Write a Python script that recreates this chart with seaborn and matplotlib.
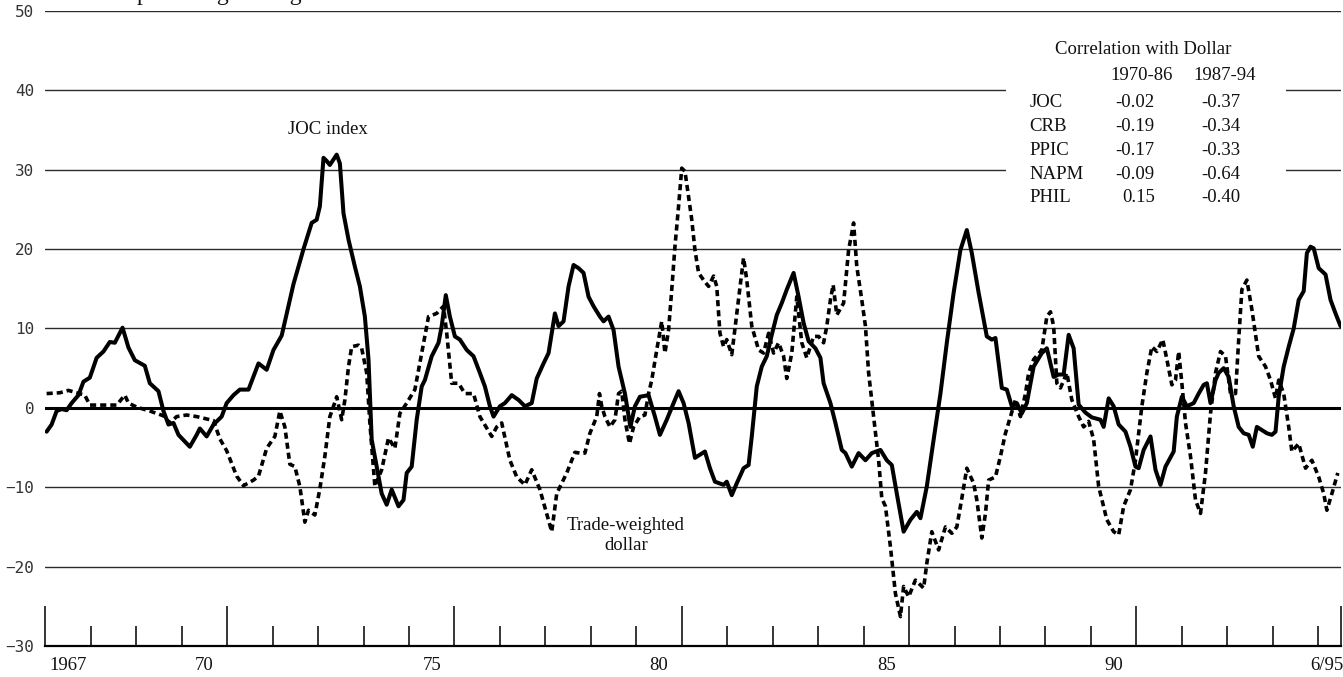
import matplotlib
matplotlib.use("Agg")
import matplotlib.pyplot as plt
import pandas as pd
import seaborn as sns
from matplotlib.patches import Rectangle
from matplotlib.transforms import blended_transform_factory

# JOC industrial materials index, year-over-year % change
joc_year = [1967.03, 1967.14, 1967.25, 1967.36, 1967.47, 1967.58, 1967.73, 1967.84, 1967.98,
            1968.13, 1968.28, 1968.42, 1968.53, 1968.70, 1968.83, 1968.97, 1969.19, 1969.30,
            1969.49, 1969.60, 1969.71, 1969.82, 1969.93, 1970.18, 1970.33, 1970.40, 1970.55,
            1970.70, 1970.88, 1970.99, 1971.14, 1971.28, 1971.47, 1971.69, 1971.87, 1972.02,
            1972.20, 1972.46, 1972.68, 1972.86, 1972.97, 1973.04, 1973.12, 1973.19, 1973.26,
            1973.34, 1973.41, 1973.48, 1973.56, 1973.67, 1973.81, 1973.92, 1974.03, 1974.11,
            1974.18, 1974.29, 1974.40, 1974.51, 1974.62, 1974.77, 1974.88, 1974.95, 1975.06,
            1975.17, 1975.28, 1975.35, 1975.50, 1975.65, 1975.72, 1975.81, 1975.90, 1976.01,
            1976.12, 1976.27, 1976.42, 1976.56, 1976.67, 1976.78, 1976.86, 1977.00, 1977.11,
            1977.26, 1977.41, 1977.55, 1977.70, 1977.81, 1977.96, 1978.07, 1978.21, 1978.29,
            1978.40, 1978.51, 1978.62, 1978.73, 1978.84, 1978.95, 1979.06, 1979.20, 1979.28,
            1979.39, 1979.50, 1979.61, 1979.75, 1979.87, 1979.97, 1980.08, 1980.27, 1980.41,
            1980.52, 1980.67, 1980.82, 1980.93, 1981.04, 1981.15, 1981.29, 1981.40, 1981.51,
            1981.62, 1981.73, 1981.92, 1981.99, 1982.10, 1982.21, 1982.36, 1982.47, 1982.54,
            1982.65, 1982.76, 1982.87, 1982.98, 1983.09, 1983.20, 1983.31, 1983.46, 1983.57,
            1983.68, 1983.79, 1983.94, 1984.05, 1984.12, 1984.27, 1984.38, 1984.52, 1984.60,
            1984.74, 1984.89, 1985.04, 1985.18, 1985.37, 1985.51, 1985.62, 1985.73, 1985.88,
            1986.03, 1986.17, 1986.25, 1986.39, 1986.54, 1986.69, 1986.83, 1986.98, 1987.13,
            1987.27, 1987.38, 1987.53, 1987.71, 1987.82, 1987.90, 1988.04, 1988.15, 1988.26,
            1988.37, 1988.48, 1988.59, 1988.74, 1988.92, 1989.03, 1989.18, 1989.29, 1989.40,
            1989.51, 1989.62, 1989.73, 1989.88, 1990.02, 1990.21, 1990.28, 1990.39, 1990.50,
            1990.61, 1990.76, 1990.87, 1990.98, 1991.05, 1991.16, 1991.31, 1991.42, 1991.53,
            1991.64, 1991.82, 1991.89, 1992.00, 1992.11, 1992.26, 1992.37, 1992.48, 1992.55,
            1992.63, 1992.74, 1992.81, 1992.92, 1993.03, 1993.14, 1993.25, 1993.36, 1993.47,
            1993.56, 1993.65, 1993.76, 1993.87, 1993.98, 1994.06, 1994.13, 1994.24, 1994.35,
            1994.46, 1994.57, 1994.68, 1994.75, 1994.83, 1994.90, 1995.01, 1995.16, 1995.27,
            1995.38, 1995.49]
joc_pct = [-3.0, -2.1, -0.4, -0.15, -0.3, 0.6, 1.6, 3.3, 3.8,
           6.3, 7.1, 8.3, 8.2, 10.1, 7.6, 6.0, 5.3, 3.1,
           2.1, -0.4, -2.1, -1.9, -3.4, -4.9, -3.4, -2.6, -3.6,
           -2.1, -1.1, 0.6, 1.6, 2.3, 2.3, 5.6, 4.8, 7.3,
           9.1, 15.6, 20.0, 23.3, 23.7, 25.4, 31.5, 31.1, 30.6,
           31.3, 31.9, 30.8, 24.5, 21.2, 17.8, 15.3, 11.5, 6.1,
           -4.0, -7.4, -10.8, -12.2, -10.3, -12.4, -11.6, -8.2, -7.4,
           -1.5, 2.7, 3.5, 6.5, 8.2, 10.3, 14.2, 11.5, 9.0,
           8.6, 7.3, 6.5, 4.4, 2.7, 0.2, -1.1, 0.2, 0.6,
           1.6, 1.0, 0.2, 0.6, 3.7, 5.6, 6.9, 11.9, 10.3,
           10.9, 15.3, 18.0, 17.6, 17.0, 14.0, 12.8, 11.5, 10.9,
           11.5, 9.8, 5.2, 1.8, -2.4, 0.2, 1.4, 1.6, -1.1,
           -3.4, -1.5, 0.6, 2.1, 0.6, -1.9, -6.3, -5.9, -5.5,
           -7.6, -9.3, -9.7, -9.3, -11.0, -9.5, -7.6, -7.2, -3.6,
           2.7, 5.2, 6.5, 9.2, 11.7, 13.2, 14.9, 17.0, 14.0,
           10.7, 8.4, 7.5, 6.3, 3.1, 0.6, -1.9, -5.3, -5.7,
           -7.4, -5.7, -6.6, -5.7, -5.3, -6.6, -7.2, -10.8, -15.6,
           -14.1, -13.1, -13.9, -9.9, -4.0, 1.8, 8.2, 14.5, 19.9,
           22.4, 19.5, 14.5, 9.0, 8.6, 8.8, 2.5, 2.3, 0.2,
           0.6, -0.7, 0.6, 5.2, 6.9, 7.5, 3.9, 4.2, 4.2,
           9.2, 7.5, 0.4, -0.6, -1.2, -1.5, -2.4, 1.2, 0.2,
           -2.1, -3.0, -4.9, -7.4, -7.6, -5.3, -3.6, -7.8, -9.7,
           -7.4, -5.5, -1.1, 1.4, 0.2, 0.6, 1.8, 2.9, 3.1,
           0.6, 3.5, 4.4, 5.0, 3.9, 0.2, -2.4, -3.2, -3.4,
           -4.9, -2.4, -2.8, -3.2, -3.4, -3.0, 1.4, 5.2, 7.7,
           10.0, 13.6, 14.7, 19.5, 20.3, 20.1, 17.6, 16.8, 13.6,
           11.9, 10.3]

# Trade-weighted dollar, year-over-year % change
usd_year = [1967.03, 1967.32, 1967.51, 1967.69, 1967.87, 1967.98, 1968.20, 1968.57, 1968.75,
            1968.83, 1969.01, 1969.30, 1969.60, 1969.74, 1969.89, 1970.11, 1970.33, 1970.55,
            1970.70, 1970.84, 1970.99, 1971.21, 1971.36, 1971.58, 1971.69, 1971.87, 1972.05,
            1972.16, 1972.27, 1972.38, 1972.49, 1972.60, 1972.71, 1972.79, 1972.93, 1973.04,
            1973.15, 1973.26, 1973.34, 1973.41, 1973.52, 1973.59, 1973.67, 1973.74, 1973.89,
            1973.96, 1974.07, 1974.14, 1974.25, 1974.40, 1974.55, 1974.69, 1974.80, 1974.95,
            1975.13, 1975.28, 1975.43, 1975.61, 1975.76, 1975.83, 1975.94, 1976.09, 1976.23,
            1976.42, 1976.56, 1976.82, 1976.93, 1977.04, 1977.22, 1977.37, 1977.55, 1977.70,
            1977.88, 1978.14, 1978.25, 1978.47, 1978.65, 1978.76, 1978.87, 1978.98, 1979.13,
            1979.19, 1979.24, 1979.31, 1979.42, 1979.53, 1979.61, 1979.68, 1979.75, 1979.85,
            1979.94, 1980.08, 1980.19, 1980.27, 1980.34, 1980.45, 1980.56, 1980.63, 1980.71,
            1980.78, 1980.85, 1980.93, 1981.00, 1981.07, 1981.15, 1981.22, 1981.29, 1981.37,
            1981.48, 1981.59, 1981.70, 1981.77, 1981.84, 1981.92, 1981.99, 1982.10, 1982.21,
            1982.36, 1982.43, 1982.54, 1982.69, 1982.80, 1982.91, 1983.02, 1983.13, 1983.24,
            1983.31, 1983.42, 1983.53, 1983.64, 1983.75, 1983.90, 1984.01, 1984.12, 1984.19,
            1984.27, 1984.33, 1984.41, 1984.56, 1984.67, 1984.74, 1984.78, 1984.85, 1984.96,
            1985.04, 1985.11, 1985.22, 1985.33, 1985.40, 1985.48, 1985.59, 1985.70, 1985.81,
            1985.88, 1985.99, 1986.14, 1986.32, 1986.39, 1986.50, 1986.65, 1986.80, 1986.94,
            1987.05, 1987.16, 1987.27, 1987.42, 1987.49, 1987.60, 1987.68, 1987.75, 1987.90,
            1988.01, 1988.12, 1988.23, 1988.34, 1988.45, 1988.56, 1988.63, 1988.74, 1988.92,
            1989.03, 1989.11, 1989.18, 1989.25, 1989.33, 1989.47, 1989.58, 1989.73, 1989.84,
            1989.95, 1990.06, 1990.17, 1990.35, 1990.50, 1990.61, 1990.72, 1990.87, 1990.98,
            1991.12, 1991.23, 1991.34, 1991.45, 1991.58, 1991.67, 1991.78, 1991.86, 1991.93,
            1992.00, 1992.08, 1992.19, 1992.30, 1992.41, 1992.52, 1992.63, 1992.74, 1992.85,
            1992.96, 1993.07, 1993.18, 1993.25, 1993.32, 1993.43, 1993.54, 1993.69, 1993.84,
            1993.95, 1994.06, 1994.13, 1994.24, 1994.35, 1994.42, 1994.57, 1994.72, 1994.86,
            1995.01, 1995.12, 1995.19, 1995.30, 1995.43]
usd_pct = [1.8, 1.9, 2.2, 1.9, 1.6, 0.35, 0.35, 0.35, 1.6,
           0.6, 0.1, -0.4, -1.0, -1.9, -1.1, -0.9, -1.1, -1.4,
           -1.6, -3.9, -5.4, -8.6, -9.8, -9.1, -8.6, -5.1, -3.6,
           -0.4, -2.4, -7.1, -7.4, -9.9, -14.4, -12.9, -13.5, -10.2,
           -6.1, -1.1, 0.2, 1.4, -1.5, 1.0, 5.2, 7.7, 7.9,
           7.5, 4.4, -1.9, -9.9, -7.8, -3.8, -5.1, -0.7, 0.6,
           2.3, 6.9, 11.5, 11.9, 12.8, 9.4, 3.1, 3.1, 1.8,
           1.8, -1.1, -3.6, -2.4, -1.9, -6.6, -8.7, -9.7, -7.8,
           -10.3, -15.6, -10.8, -8.2, -5.6, -5.7, -5.7, -3.2, -1.1,
           1.8, 0.2, -1.1, -2.4, -1.5, 1.8, 2.1, -1.5, -4.5,
           -2.4, -1.1, -0.9, 1.8, 3.5, 7.3, 10.9, 6.9, 9.8,
           14.9, 20.3, 25.4, 30.2, 29.8, 26.6, 23.7, 19.9, 17.0,
           16.1, 15.3, 16.6, 15.3, 9.4, 7.7, 8.6, 6.7, 11.9,
           18.9, 16.1, 10.3, 7.3, 6.9, 9.4, 6.9, 8.2, 6.5,
           3.7, 6.9, 14.0, 8.2, 6.3, 9.0, 9.0, 8.2, 10.3,
           13.6, 15.5, 11.7, 13.2, 19.9, 22.0, 23.3, 17.8, 13.6,
           10.3, 4.4, -1.1, -6.6, -11.4, -12.4, -17.5, -23.4, -26.3,
           -22.5, -23.8, -21.7, -22.7, -19.6, -15.6, -17.9, -15.0, -15.8,
           -15.0, -11.4, -7.6, -9.5, -11.6, -16.4, -13.3, -9.1, -8.7,
           -6.1, -3.2, -1.1, 1.0, -1.1, 1.8, 4.4, 6.1, 7.3,
           11.5, 12.1, 10.3, 3.1, 2.5, 4.4, 1.0, -1.1, -2.4,
           -1.7, -4.0, -9.9, -14.1, -15.6, -16.0, -12.4, -10.3, -6.6,
           0.2, 4.4, 7.7, 7.1, 8.6, 6.1, 2.9, 3.5, 7.1,
           3.1, -1.9, -6.1, -11.6, -13.3, -8.2, -0.7, 4.4, 7.1,
           6.5, 1.8, 1.8, 8.6, 14.9, 16.1, 12.4, 6.5, 5.2,
           3.5, 1.2, 3.5, 1.8, -2.4, -5.5, -4.5, -7.6, -6.6,
           -8.7, -10.8, -12.9, -10.8, -8.2]

grid_levels = [50, 40, 30, 20, 10, -10, -20]
y_ticks = [50, 40, 30, 20, 10, 0, -10, -20, -30]
year_labels = ["1967", "70", "75", "80", "85", "90"]
year_label_pos = [1967.5, 1970.5, 1975.5, 1980.5, 1985.5, 1990.5]
end_label = "6/95"
x_start, x_end = 1967.0, 1995.5
major_years = [1967, 1971, 1976, 1981, 1986, 1991]
minor_years = [y for y in range(1968, 1996) if y not in major_years]

table_title = "Correlation with Dollar"
table_periods = ["1970-86", "1987-94"]
table_series = ["JOC", "CRB", "PPIC", "NAPM", "PHIL"]
corr_1970_86 = ["-0.02", "-0.19", "-0.17", "-0.09", "0.15"]
corr_1987_94 = ["-0.37", "-0.34", "-0.33", "-0.64", "-0.40"]

sns.set_style("white")
plt.rcParams["font.family"] = ["Liberation Serif", "DejaVu Serif"]
ink = "#111111"
serif_size = 13.5

fig = plt.figure(figsize=(13.43, 6.77), dpi=100)
ax = fig.add_axes([0.0337, 0.0458, 0.9648, 0.938])

# horizontal rules
for lvl in grid_levels:
    ax.axhline(lvl, color="#2b2b2b", lw=1.0, zorder=1)
ax.axhline(0, color="black", lw=2.2, zorder=1)

joc = pd.DataFrame({"year": joc_year, "pct": joc_pct})
usd = pd.DataFrame({"year": usd_year, "pct": usd_pct})
sns.lineplot(data=usd, x="year", y="pct", ax=ax, color="black", lw=2.6,
             linestyle=(0, (1.7, 1.1)), estimator=None, sort=False, zorder=3)
sns.lineplot(data=joc, x="year", y="pct", ax=ax, color="black", lw=2.9,
             estimator=None, sort=False, zorder=4)

ax.set_xlim(x_start, x_end)
ax.set_ylim(-30, 50)
ax.set_xlabel("")
ax.set_ylabel("")

for side in ["top", "right", "left"]:
    ax.spines[side].set_visible(False)
ax.spines["bottom"].set_linewidth(1.6)
ax.spines["bottom"].set_color("black")

# y axis: labels only
ax.set_yticks(y_ticks)
ax.tick_params(axis="y", left=False, length=0, pad=8, labelsize=11.5,
               labelcolor="#333333")
for lbl in ax.get_yticklabels():
    lbl.set_fontfamily("DejaVu Sans Mono")

# x axis: inward year ticks, labels centred inside each year
ax.set_xticks(major_years + [x_end])
ax.set_xticks(minor_years, minor=True)
ax.tick_params(axis="x", which="major", bottom=True, direction="in", length=29,
               width=1.1, color="black", labelbottom=False)
ax.tick_params(axis="x", which="minor", bottom=True, direction="in", length=14.5,
               width=1.1, color="black", labelbottom=False)
xt = blended_transform_factory(ax.transData, ax.transAxes)
for pos, lab in zip(year_label_pos, year_labels):
    ax.text(pos, -0.017, lab, transform=xt, ha="center", va="top",
            fontsize=serif_size, color=ink)
ax.text(x_end + 0.05, -0.017, end_label, transform=xt, ha="right", va="top",
        fontsize=serif_size, color=ink)

# correlation table on a white panel
ax.add_patch(Rectangle((1988.14, 25.0), 6.14, 21.5, facecolor="white",
                       edgecolor="none", zorder=2))
ax.text(0.8476, 0.9386, table_title, transform=ax.transAxes, ha="center",
        va="center", fontsize=serif_size, color=ink, zorder=5)
ax.text(0.8460, 0.8976, table_periods[0], transform=ax.transAxes, ha="center",
        va="center", fontsize=serif_size, color=ink, zorder=5)
ax.text(0.9105, 0.8976, table_periods[1], transform=ax.transAxes, ha="center",
        va="center", fontsize=serif_size, color=ink, zorder=5)
row_y = [0.8551, 0.8173, 0.7795, 0.7417, 0.7055]
for yy, name, c1, c2 in zip(row_y, table_series, corr_1970_86, corr_1987_94):
    ax.text(0.7597, yy, name, transform=ax.transAxes, ha="left", va="center",
            fontsize=serif_size, color=ink, zorder=5)
    ax.text(0.8563, yy, c1, transform=ax.transAxes, ha="right", va="center",
            fontsize=serif_size, color=ink, zorder=5)
    ax.text(0.9223, yy, c2, transform=ax.transAxes, ha="right", va="center",
            fontsize=serif_size, color=ink, zorder=5)

# series labels
ax.text(0.1873, 0.8126, "JOC index", transform=ax.transAxes, ha="left",
        va="center", fontsize=serif_size, color=ink)
ax.text(0.4482, 0.1740, "Trade-weighted\ndollar", transform=ax.transAxes,
        ha="center", va="center", multialignment="center", linespacing=1.25,
        fontsize=serif_size, color=ink)

# heading (sits at the very top edge)
fig.text(137 / 1343, 1.0, "percentage change", ha="left", va="baseline",
         fontsize=17, color=ink)

fig.savefig("out.png", dpi=100)
